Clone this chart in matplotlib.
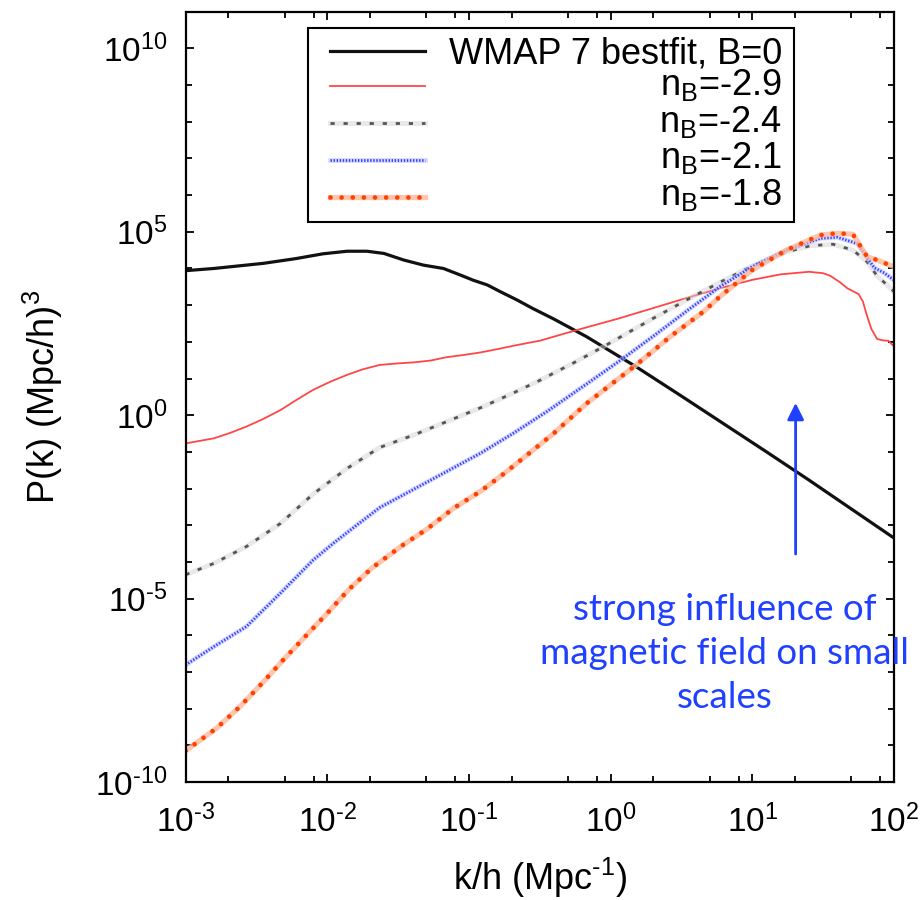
import numpy as np
import matplotlib
matplotlib.use('Agg')
import matplotlib.pyplot as plt
from matplotlib.patches import Rectangle
from matplotlib.ticker import FixedLocator, LogLocator, NullFormatter, FuncFormatter

plt.rcParams['font.family'] = ['Liberation Sans', 'DejaVu Sans']
plt.rcParams['mathtext.fontset'] = 'custom'
plt.rcParams['mathtext.rm'] = 'Liberation Sans'
plt.rcParams['mathtext.it'] = 'Liberation Sans:italic'
plt.rcParams['mathtext.default'] = 'rm'
plt.rcParams['axes.unicode_minus'] = False
plt.rcParams['lines.scale_dashes'] = False

# values, log10(k/h) and log10(P)
logk_wmap = [-3.0, -2.8, -2.45, -2.22, -2.03, -1.86, -1.72, -1.6, -1.46, -1.32, -1.18, -1.06,
             -0.97, -0.87, -0.78, -0.66, -0.55, -0.4, -0.17, 0.18, 0.5, 0.8, 1.1, 1.4, 1.7, 2.0]
logp_wmap = [3.94, 4.0, 4.14, 4.27, 4.4, 4.47, 4.47, 4.41, 4.23, 4.09, 4.0, 3.82,
             3.68, 3.55, 3.37, 3.14, 2.91, 2.62, 2.14, 1.32, 0.52, -0.24, -1.0, -1.77, -2.56, -3.35]

logk_29 = [-3.0, -2.8, -2.69, -2.57, -2.45, -2.33, -2.22, -2.1, -1.98, -1.86, -1.75, -1.63,
           -1.51, -1.39, -1.27, -1.16, -1.04, -0.92, -0.8, -0.69, -0.57, -0.5, -0.24, 0.06,
           0.3, 0.54, 0.77, 1.0, 1.2, 1.4, 1.5, 1.55, 1.62, 1.67, 1.71, 1.75, 1.78, 1.81,
           1.84, 1.88, 1.92, 1.96, 2.0]
logp_29 = [-0.77, -0.63, -0.49, -0.31, -0.1, 0.14, 0.41, 0.69, 0.91, 1.1, 1.25, 1.37,
           1.41, 1.44, 1.49, 1.58, 1.64, 1.71, 1.8, 1.89, 1.98, 2.03, 2.32, 2.64,
           2.92, 3.2, 3.46, 3.69, 3.84, 3.91, 3.87, 3.8, 3.62, 3.46, 3.38, 3.3, 3.1, 2.7,
           2.35, 2.08, 2.04, 2.03, 1.87]

logk_24 = [-3.0, -2.8, -2.57, -2.33, -2.1, -1.86, -1.63, -1.39, -1.16, -0.92, -0.69, -0.5,
           -0.25, -0.05, 0.3, 0.54, 0.77, 1.0, 1.24, 1.41, 1.57, 1.71, 1.81, 1.88, 1.95, 2.0]
logp_24 = [-4.35, -4.04, -3.58, -2.95, -2.15, -1.45, -0.88, -0.54, -0.18, 0.2, 0.6, 0.95,
           1.45, 1.87, 2.64, 3.15, 3.62, 4.07, 4.45, 4.62, 4.66, 4.5, 4.18, 3.8, 3.55, 3.37]

logk_21 = [-3.0, -2.8, -2.57, -2.33, -2.1, -1.95, -1.8, -1.63, -1.39, -1.16, -0.92, -0.69, -0.45,
           -0.17, 0.07, 0.3, 0.54, 0.77, 1.0, 1.24, 1.48, 1.6, 1.74, 1.81, 1.86, 1.93, 2.0]
logp_21 = [-6.81, -6.31, -5.76, -4.85, -3.95, -3.47, -3.02, -2.52, -2.02, -1.54, -1.04, -0.5, 0.1,
           0.85, 1.5, 2.15, 2.85, 3.5, 4.05, 4.5, 4.82, 4.85, 4.68, 4.3, 4.02, 3.88, 3.68]

logk_18 = [-3.0, -2.78, -2.615, -2.46, -2.31, -2.157, -2.0, -1.85, -1.686, -1.474, -1.298,
           -1.11, -0.92, -0.745, -0.4, -0.17, 0.18, 0.42, 0.654, 0.77, 1.0, 1.24, 1.48,
           1.6, 1.71, 1.81, 1.88, 1.97, 2.0]
logp_18 = [-9.15, -8.53, -7.94, -7.31, -6.67, -6.04, -5.4, -4.76, -4.17, -3.56, -3.11,
           -2.54, -2.08, -1.57, -0.49, 0.32, 1.37, 2.14, 2.82, 3.23, 3.96, 4.5, 4.91,
           4.96, 4.93, 4.32, 4.23, 4.09, 4.05]

labels = ['WMAP 7 bestfit, B=0', r'n$_{\rm B}$=-2.9', r'n$_{\rm B}$=-2.4',
          r'n$_{\rm B}$=-2.1', r'n$_{\rm B}$=-1.8']

# line styles, halo = (colour, lw, alpha) of the soft line drawn underneath
styles = [
    dict(color='#111111', lw=2.3, ls='-', cap='butt', halo=None),
    dict(color='#ff4646', lw=1.3, ls='-', cap='butt', halo=None),
    dict(color='#555555', lw=2.0, ls=(0, (3, 6.4)), cap='butt', halo=('#d4d4d4', 3.5, 0.5)),
    dict(color='#3040ff', lw=2.0, ls=(0, (1, 1.2)), cap='butt', halo=('#c0c4ff', 3.5, 0.6)),
    dict(color='#ff4000', lw=3.4, ls=(0, (0.01, 8)), cap='round', halo=('#ffb89a', 3.8, 0.8)),
]
series = [(logk_wmap, logp_wmap), (logk_29, logp_29), (logk_24, logp_24),
          (logk_21, logp_21), (logk_18, logp_18)]

fig = plt.figure(figsize=(9.24, 9.0), dpi=100)
ax = fig.add_axes([0.2008, 0.1311, 0.7668, 0.8559])


def draw(x, y, st, **kw):
    if st['halo'] is not None:
        hc, hw, ha = st['halo']
        ax.plot(x, y, color=hc, lw=hw, alpha=ha, **kw)
    ax.plot(x, y, color=st['color'], lw=st['lw'], ls=st['ls'],
            dash_capstyle=st['cap'], **kw)


for (lk, lp), st in zip(series, styles):
    draw(10**np.array(lk), 10**np.array(lp), st)

ax.set_xscale('log')
ax.set_yscale('log')
ax.set_xlim(1e-3, 1e2)
ax.set_ylim(1e-10, 1e11)


def pow_label(v, pos):
    e = int(round(np.log10(v)))
    if e < 0:
        return r'$\mathdefault{10^{\text{-}%d}}$' % (-e)
    return r'$\mathdefault{10^{%d}}$' % e


ax.yaxis.set_major_locator(FixedLocator([1e-10, 1e-5, 1e0, 1e5, 1e10]))
ax.yaxis.set_minor_locator(FixedLocator([10.0**i for i in range(-10, 12)]))
ax.yaxis.set_minor_formatter(NullFormatter())
ax.xaxis.set_major_locator(LogLocator(base=10, numticks=10))
ax.xaxis.set_minor_locator(LogLocator(base=10, subs=(2, 5, 8), numticks=10))
ax.xaxis.set_minor_formatter(NullFormatter())
ax.xaxis.set_major_formatter(FuncFormatter(pow_label))
ax.yaxis.set_major_formatter(FuncFormatter(pow_label))

ax.tick_params(which='both', direction='in', top=True, right=True, width=1.3, labelsize=24)
ax.tick_params(which='major', length=6)
ax.tick_params(which='minor', length=4)
ax.tick_params(axis='y', pad=13)
ax.tick_params(axis='x', pad=16)
for s in ax.spines.values():
    s.set_linewidth(1.6)

ax.set_xlabel(r'k/h (Mpc$^{\text{-}1}$)', fontsize=26, labelpad=12)
ax.set_ylabel(r'P(k) (Mpc/h)$^{3}$', fontsize=26, labelpad=22)

# gnuplot style key: samples on the left, text right-aligned
ax.add_patch(Rectangle((0.173, 0.727), 0.686, 0.252, transform=ax.transAxes,
                       facecolor='white', edgecolor='black', lw=1.5, zorder=5))
rows = [0.949, 0.903, 0.855, 0.808, 0.760]
for i, (lab, st, ry) in enumerate(zip(labels, styles, rows)):
    kw = dict(transform=ax.transAxes, zorder=6, clip_on=False)
    draw([0.204, 0.338], [ry, ry], st, **kw)
    off = 0.0164 if i == 0 else 0.0109
    ax.text(0.8415, ry - off, lab, transform=ax.transAxes, ha='right', va='baseline',
            fontsize=26, zorder=7)

blue = '#2040ff'
ax.annotate('', xy=(20.2, 10**0.41), xytext=(20.2, 10**-3.86),
            arrowprops=dict(arrowstyle='-|>', color=blue, lw=2, mutation_scale=25))
ax.text(6.4, 10**-6.5, 'strong influence of\nmagnetic field on small\nscales',
        ha='center', va='center', color=blue, fontsize=26.5, linespacing=1.4,
        family='Lato', clip_on=False)

fig.savefig('out.png', dpi=100)
